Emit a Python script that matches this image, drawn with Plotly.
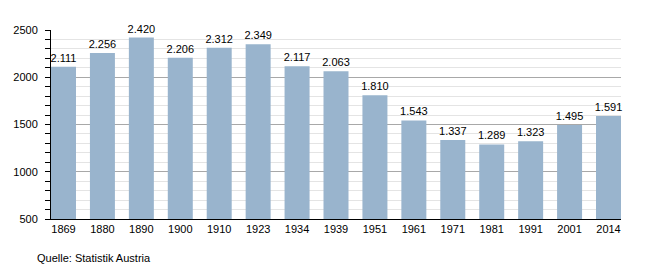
import plotly.graph_objects as go

years = ["1869", "1880", "1890", "1900", "1910", "1923", "1934", "1939",
         "1951", "1961", "1971", "1981", "1991", "2001", "2014"]
values = [2111, 2256, 2420, 2206, 2312, 2349, 2117, 2063,
          1810, 1543, 1337, 1289, 1323, 1495, 1591]

bar_color = "#99b4cd"
bar_frac = 0.642

fig = go.Figure(go.Bar(
    x=years, y=values,
    marker=dict(color=bar_color, line=dict(width=0)),
    texttemplate="%{y:,}", textposition="outside",
    constraintext="none",
    textfont=dict(family="Liberation Sans, Arial, sans-serif", size=11, color="#000"),
    cliponaxis=False,
))

fig.update_layout(
    width=650, height=270,
    margin=dict(l=51, r=29, t=30, b=51),
    paper_bgcolor="white", plot_bgcolor="white",
    separators=",.",
    bargap=1 - bar_frac,
    showlegend=False,
    font=dict(family="Liberation Sans, Arial, sans-serif", size=11, color="#000"),
    xaxis=dict(
        type="category", showline=True, linecolor="#000", linewidth=1,
        range=[-bar_frac / 2, len(years) - 1 + bar_frac / 2],
        ticks="", showgrid=False, tickfont=dict(size=11), ticklen=0,
    ),
    yaxis=dict(
        range=[500, 2500], tickvals=[500, 1000, 1500, 2000, 2500],
        showline=True, linecolor="#000", linewidth=1,
        ticks="outside", ticklen=5, tickcolor="#000",
        ticklabelstandoff=5,
        showgrid=True, gridcolor="#a8a8a8", gridwidth=1,
        zeroline=False, tickfont=dict(size=11),
        minor=dict(dtick=100, tick0=500, showgrid=True, gridcolor="#e4e4e4",
                   ticks="outside", ticklen=5, tickcolor="#000"),
    ),
    annotations=[dict(
        text="Quelle: Statistik Austria", xref="paper", yref="paper",
        x=-0.028, y=-0.206, xanchor="left", yanchor="middle", showarrow=False,
        font=dict(size=11, color="#000"),
    )],
)

fig.write_html("out.html")
